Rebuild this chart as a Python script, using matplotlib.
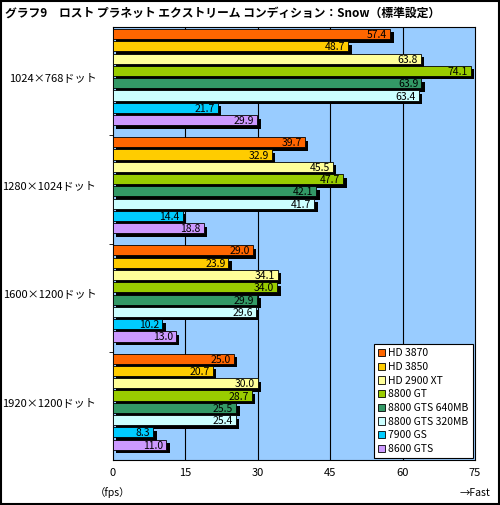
import matplotlib
matplotlib.use("Agg")
import matplotlib.pyplot as plt
import matplotlib.patheffects as pe
from matplotlib.patches import Rectangle

plt.rcParams['font.family'] = ['Noto Sans CJK JP', 'DejaVu Sans']

groups = ["1024×768ドット", "1280×1024ドット", "1600×1200ドット", "1920×1200ドット"]
series = ["HD 3870", "HD 3850", "HD 2900 XT", "8800 GT", "8800 GTS 640MB", "8800 GTS 320MB", "7900 GS", "8600 GTS"]
colors = ["#FF6600", "#FFCC00", "#FFFF99", "#99CC00", "#339966", "#CCFFFF", "#00CCFF", "#CC99FF"]
values = [
    [57.4, 48.7, 63.8, 74.1, 63.9, 63.4, 21.7, 29.9],
    [39.7, 32.9, 45.5, 47.7, 42.1, 41.7, 14.4, 18.8],
    [29.0, 23.9, 34.1, 34.0, 29.9, 29.6, 10.2, 13.0],
    [25.0, 20.7, 30.0, 28.7, 25.5, 25.4, 8.3, 11.0],
]
xticks = [0, 15, 30, 45, 60, 75]

fig = plt.figure(figsize=(5.0, 5.05), dpi=100)
fig.patches.append(Rectangle((0.002, 0.002), 0.996, 0.996, transform=fig.transFigure,
                             fill=False, edgecolor='black', linewidth=1.5))
ax = fig.add_axes([0.226, 0.089, 0.724, 0.857])
ax.set_facecolor("#99CCFF")
pitch = 8.8
shadow = [pe.SimplePatchShadow(offset=(2.5, -2.5), shadow_rgbFace='black', alpha=1), pe.Normal()]
for g, vals in enumerate(values):
    for i, v in enumerate(vals):
        y = g * pitch + 0.55 + i
        b = ax.barh(y, v, height=0.82, color=colors[i], edgecolor='black', linewidth=0.6,
                    label=series[i] if g == 0 else None, zorder=3)
        b[0].set_path_effects(shadow)
        ax.text(v - 0.6, y, f"{v:.1f}", ha='right', va='center_baseline', fontsize=7.5, zorder=4)
ax.set_xlim(0, 75)
ax.set_ylim(4 * pitch, 0)
ax.set_xticks(xticks)
ax.set_xticklabels([str(t) for t in xticks], fontsize=8)
ax.tick_params(axis='x', length=0, pad=6)
for t in xticks[1:-1]:
    ax.axvline(t, color='black', linewidth=0.8, zorder=1)
ax.set_yticks([g * pitch for g in range(1, 4)], minor=True)
ax.tick_params(axis='y', which='minor', length=3)
ax.set_yticks([g * pitch + 4.05 for g in range(4)])
ax.set_yticklabels(groups, fontsize=8)
ax.tick_params(axis='y', which='major', length=0, pad=12)
for s in ax.spines.values():
    s.set_linewidth(0.8)
fig.text(0.226, 0.018, "（fps）", ha='center', fontsize=7.5)
fig.text(0.95, 0.018, "→Fast", ha='center', fontsize=7.5)
fig.text(0.01, 0.975, "グラフ9　ロスト プラネット エクストリーム コンディション：Snow（標準設定）",
         fontsize=8.5, fontweight='bold', va='center')
leg = ax.legend(loc='lower right', fontsize=7.5, frameon=True, fancybox=False, edgecolor='black',
                facecolor='white', framealpha=1,
                handlelength=0.7, handleheight=0.7, handletextpad=0.3, borderpad=0.4,
                labelspacing=0.35, borderaxespad=0.2)
leg.get_frame().set_linewidth(0.8)
leg.set_zorder(5)
for h in leg.legend_handles:
    h.set_path_effects([])
fig.savefig("out.png", dpi=100)
